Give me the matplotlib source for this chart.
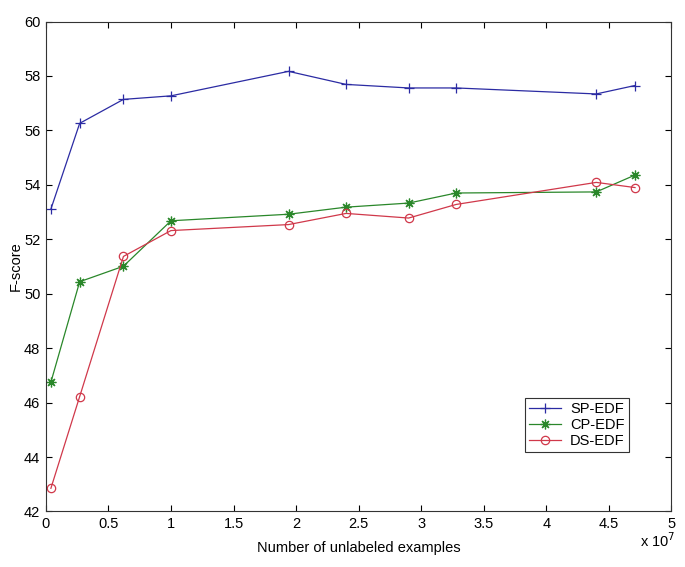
import matplotlib
matplotlib.use("Agg")
import matplotlib.pyplot as plt

# unlabeled examples (x 10^7)
n_unlabeled = [0.04, 0.27, 0.62, 1.0, 1.94, 2.4, 2.9, 3.28, 4.4, 4.71]

sp_edf = [53.11, 56.26, 57.14, 57.27, 58.17, 57.69, 57.56, 57.56, 57.34, 57.65]
cp_edf = [46.75, 50.44, 51.01, 52.68, 52.92, 53.18, 53.33, 53.70, 53.74, 54.36]
ds_edf = [42.85, 46.22, 51.37, 52.32, 52.54, 52.95, 52.78, 53.28, 54.09, 53.90]

xticks = [0, 0.5, 1, 1.5, 2, 2.5, 3, 3.5, 4, 4.5, 5]
yticks = [42, 44, 46, 48, 50, 52, 54, 56, 58, 60]

plt.rcParams['font.family'] = ['Liberation Sans', 'DejaVu Sans']
plt.rcParams['font.size'] = 10.5

fig = plt.figure(figsize=(6.85, 5.67), dpi=100)
ax = fig.add_axes([0.067, 0.098, 0.913, 0.864])

# matlab style markers: plus, asterisk, open circle
ax.plot(n_unlabeled, sp_edf, color='#2b2ba3', marker='+', markersize=7,
        markeredgewidth=0.9, linewidth=0.9, label='SP-EDF')
ax.plot(n_unlabeled, cp_edf, color='#2a872a', marker=(8, 2, 0), markersize=7,
        markeredgewidth=0.9, linewidth=0.9, label='CP-EDF')
ax.plot(n_unlabeled, ds_edf, color='#d0384a', marker='o', markersize=6,
        markerfacecolor='none', markeredgewidth=0.9, linewidth=0.9, label='DS-EDF')

ax.set_xlim(0, 5)
ax.set_ylim(42, 60)
ax.set_xticks(xticks)
ax.set_xticklabels([f'{t:g}' for t in xticks])
ax.set_yticks(yticks)
ax.tick_params(direction='in', length=4, width=0.8, top=True, right=True,
               labelsize=10.5, pad=4)
for s in ax.spines.values():
    s.set_linewidth(0.8)
    s.set_color('#333333')

ax.set_xlabel('Number of unlabeled examples', labelpad=7)
ax.set_ylabel('F-score')
ax.yaxis.set_label_coords(-0.037, 0.5)
fig.text(0.935, 0.035, r'x 10$^7$', fontsize=10.5)

leg = ax.legend(loc='lower left', bbox_to_anchor=(0.766, 0.121),
                fancybox=False, framealpha=1, edgecolor='#333333',
                handlelength=2.2, borderpad=0.3, labelspacing=0.12,
                handletextpad=0.6, borderaxespad=0, fontsize=10.5)
leg.get_frame().set_linewidth(0.8)

fig.savefig('out.png', dpi=100)
